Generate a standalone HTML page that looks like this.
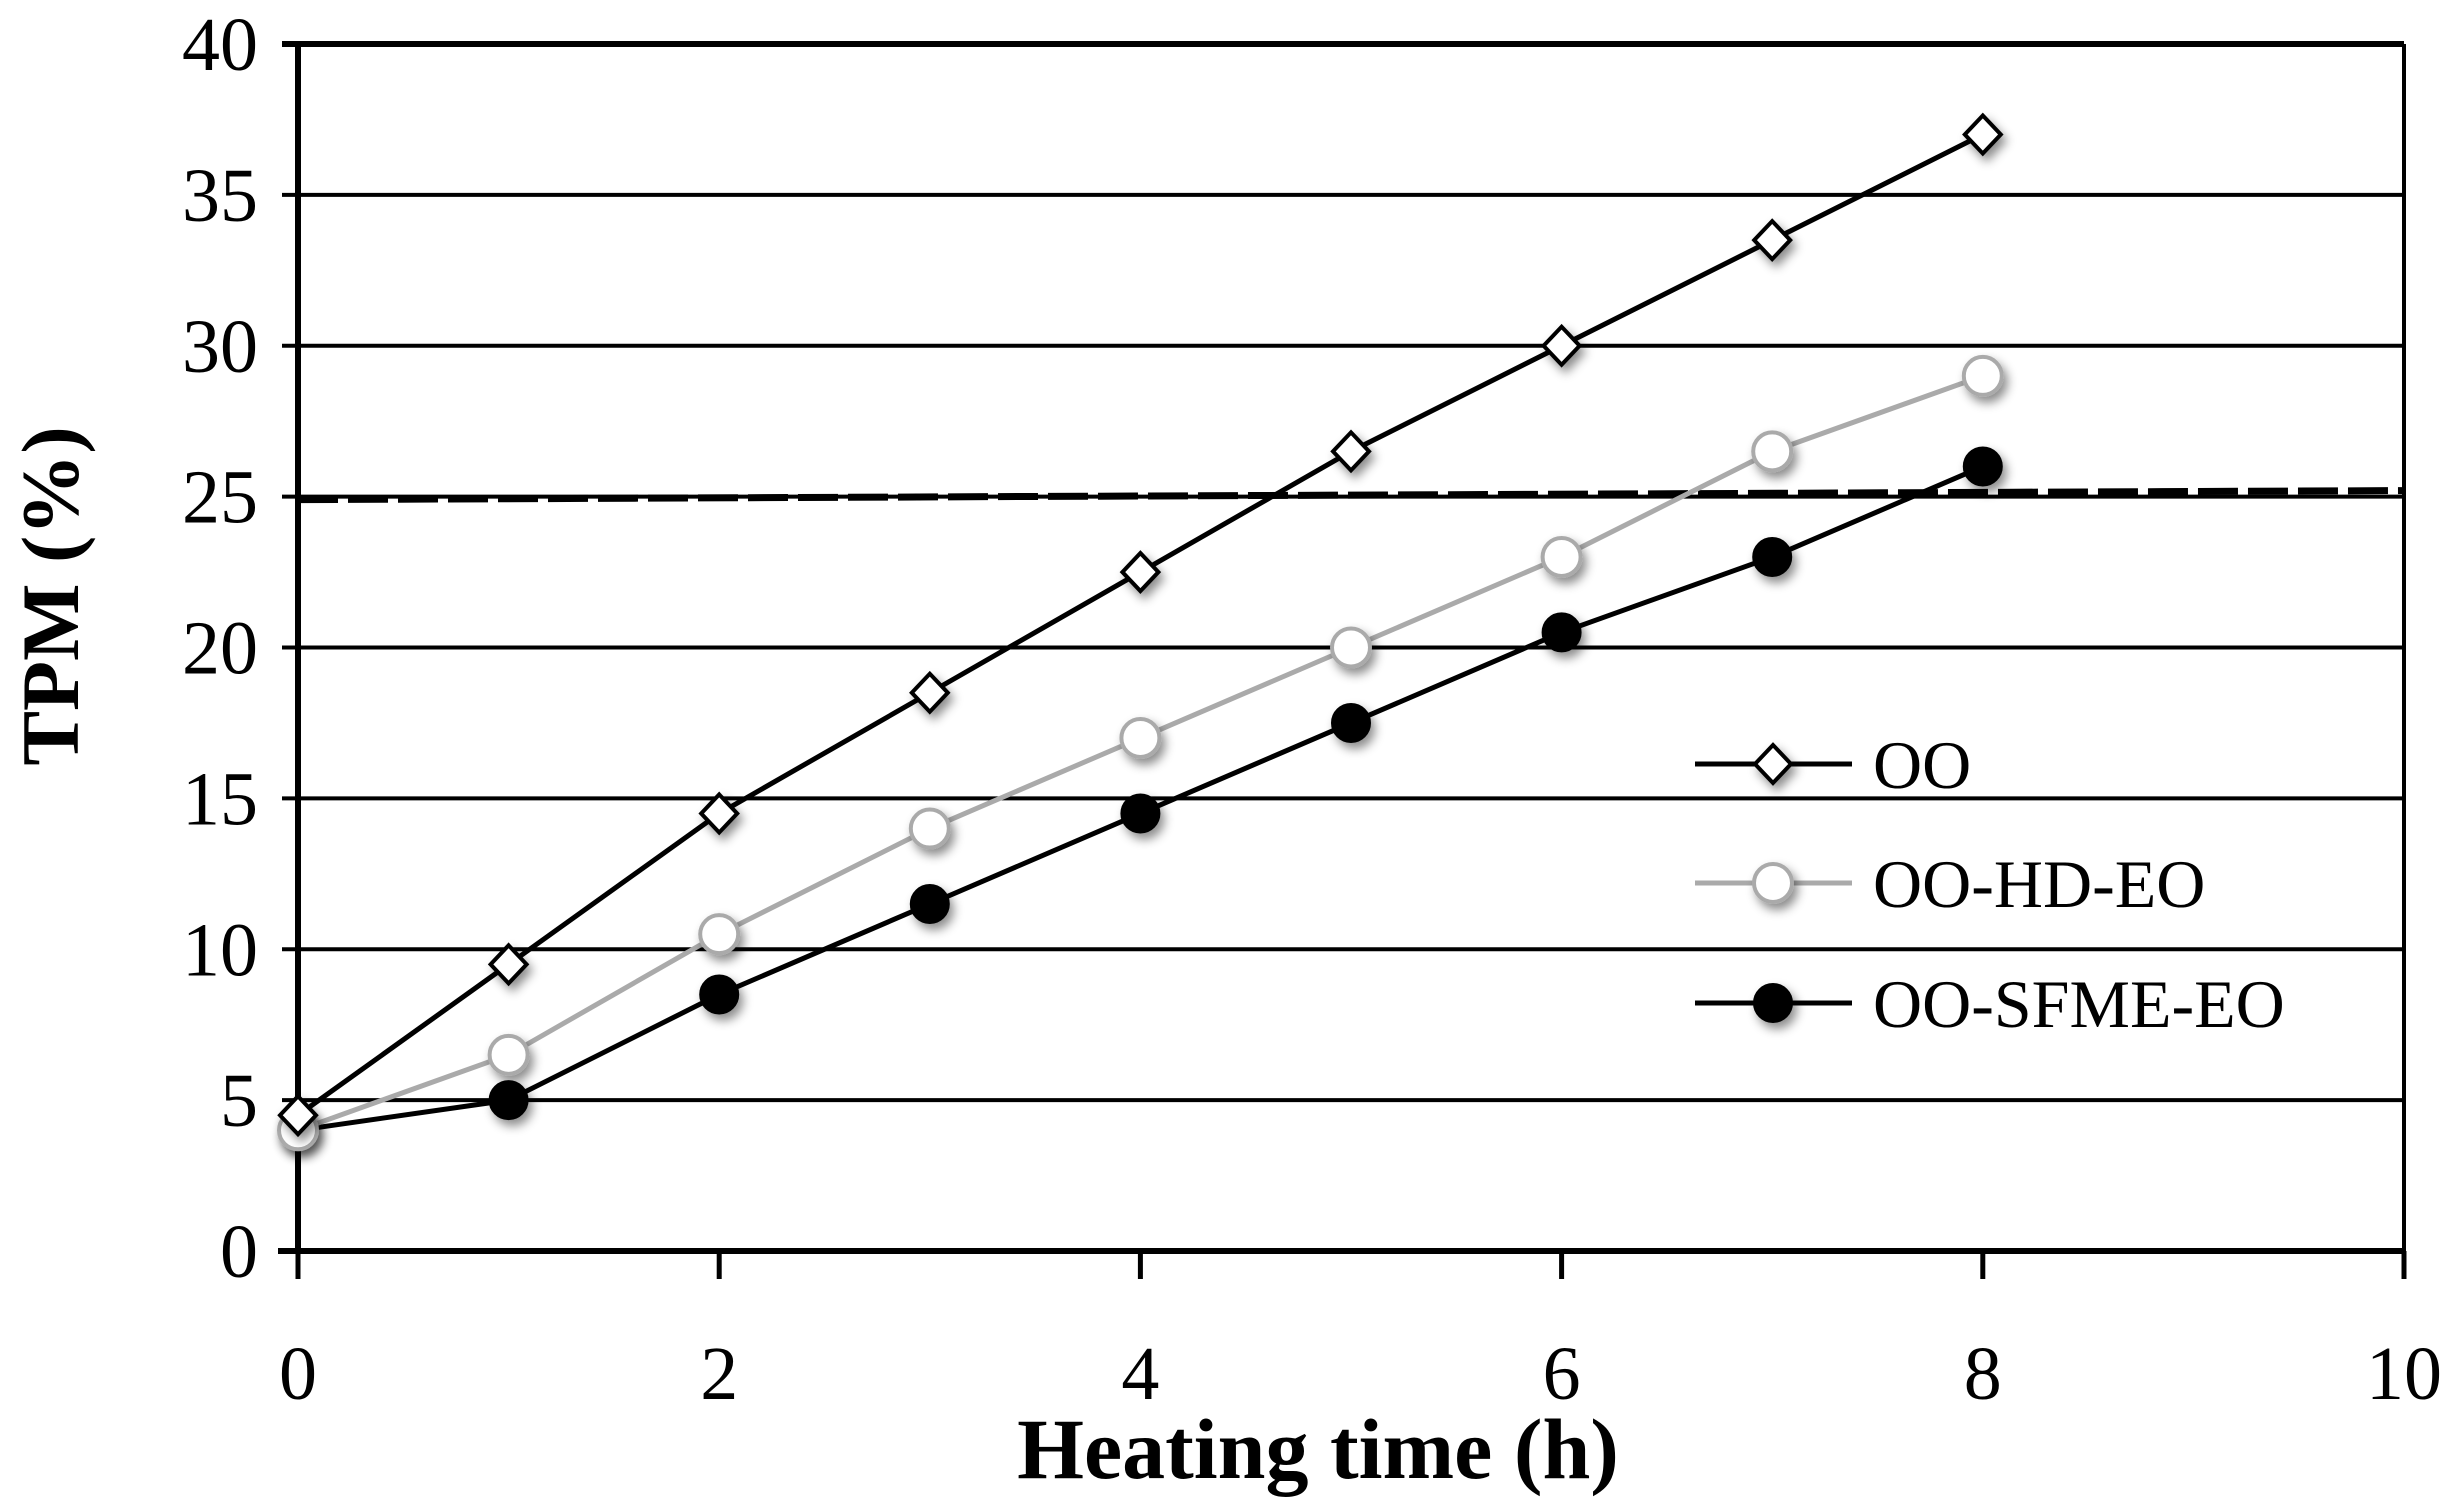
<!DOCTYPE html>
<html><head><meta charset="utf-8"><style>
html,body{margin:0;padding:0;background:#fff;}
svg{display:block;font-family:"Liberation Serif",serif;}
</style></head><body>
<svg id="chart" width="2448" height="1512" viewBox="0 0 2448 1512" xmlns="http://www.w3.org/2000/svg">
<defs>
<filter id="sh" x="-50%" y="-50%" width="200%" height="200%"><feDropShadow dx="4" dy="6" stdDeviation="5" flood-color="#000" flood-opacity="0.45"/></filter>
</defs>
<g id="grid"></g>
<g id="axes"></g>
<g id="series"></g>
<g id="legend"></g>
<text x="1318" y="1478" font-size="86" font-weight="bold" text-anchor="middle">Heating time (h)</text>
<text transform="translate(78,596) rotate(-90)" font-size="82" font-weight="bold" text-anchor="middle">TPM (%)</text>
</svg>
<script>
const xTicks=[0,2,4,6,8,10];
const yTicks=[0,5,10,15,20,25,30,35,40];
const hours=[0,1,2,3,4,5,6,7,8];
const ooVals=[4.5,9.5,14.5,18.5,22.5,26.5,30,33.5,37];
const hdVals=[4,6.5,10.5,14,17,20,23,26.5,29];
const sfmeVals=[4,5,8.5,11.5,14.5,17.5,20.5,23,26];
const limitStart=24.9, limitEnd=25.2;
const L=298,R=2404,T=44,B=1251;
const X=v=>L+(R-L)*v/10, Y=v=>B-(B-T)*v/40;
const NS='http://www.w3.org/2000/svg';
function mk(tag,attrs,parent){const e=document.createElementNS(NS,tag);for(const k in attrs)e.setAttribute(k,attrs[k]);parent.appendChild(e);return e;}
const grid=document.getElementById('grid'),axes=document.getElementById('axes'),ser=document.getElementById('series'),leg=document.getElementById('legend');
yTicks.forEach(v=>{
 const l=mk('line',{x1:L-16,x2:R,y1:Y(v),y2:Y(v),stroke:'#000','stroke-width':v===40?6:4},grid);
 
 
 const t=mk('text',{x:L-40,y:Y(v)+26,'font-size':76,'text-anchor':'end'},axes);t.textContent=v;
 
 
});
const ya=mk('line',{x1:L,x2:L,y1:T,y2:B,stroke:'#000','stroke-width':6},axes);


const rb=mk('line',{x1:R,x2:R,y1:T,y2:B,stroke:'#000','stroke-width':4},axes);


const xa=mk('line',{x1:L-20,x2:R,y1:B,y2:B,stroke:'#000','stroke-width':6},axes);


xTicks.forEach(v=>{
 const tk=mk('line',{x1:X(v),x2:X(v),y1:B,y2:B+28,stroke:'#000','stroke-width':5},axes);
 
 
 const t=mk('text',{x:X(v),y:1399,'font-size':76,'text-anchor':'middle'},axes);t.textContent=v;
 
 
});
const dl=mk('line',{x1:L,x2:R,y1:Y(limitStart),y2:Y(limitEnd),stroke:'#000','stroke-width':7,'stroke-dasharray':'40 10'},grid);


function marker(type,x,y,g){
 let e;
 if(type==='diamond'){e=mk('polygon',{points:`${x},${y-19} ${x+18},${y} ${x},${y+19} ${x-18},${y}`,fill:'#fff',stroke:'#000','stroke-width':4,filter:'url(#sh)'},g);}
 else if(type==='open'){e=mk('circle',{cx:x,cy:y,r:19,fill:'#fff',stroke:'#aaa','stroke-width':4,filter:'url(#sh)'},g);}
 else {e=mk('circle',{cx:x,cy:y,r:19,fill:'#000',stroke:'#000','stroke-width':2,filter:'url(#sh)'},g);}
 return e;
}
const defs=[['oo',ooVals,'#000','diamond','OO',764],['hd',hdVals,'#aaa','open','OO-HD-EO',883],['sfme',sfmeVals,'#000','filled','OO-SFME-EO',1003]];
defs.slice().reverse().forEach(([id,vals,col,type])=>{
 const g=mk('g',{},ser);
 
 
 const ln=mk('polyline',{points:hours.map((h,i)=>X(h)+','+Y(vals[i])).join(' '),fill:'none',stroke:col,'stroke-width':5},g);
 
 
 hours.forEach((h,i)=>{const m=marker(type,X(h),Y(vals[i]),g);
  
  });
});
defs.forEach(([id,vals,col,type,label,y])=>{
 const g=mk('g',{},leg);
 
 
 mk('line',{x1:1695,x2:1852,y1:y,y2:y,stroke:col,'stroke-width':5},g);
 marker(type,1773,y,g);
 const t=mk('text',{x:1873,y:y+24,'font-size':68},g);t.textContent=label;
});
</script>
</body></html>
